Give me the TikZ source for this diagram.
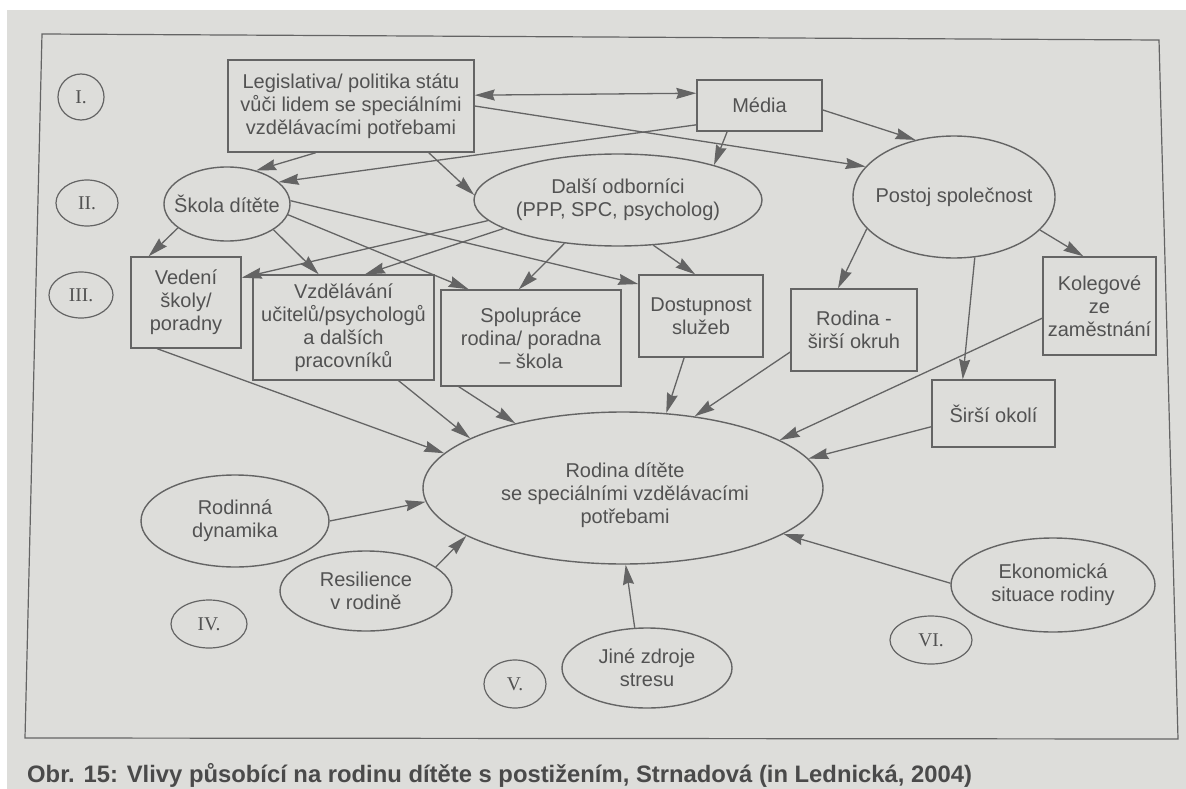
\documentclass[tikz,border=0pt]{standalone}
\usepackage{fontspec}
\setmainfont{Liberation Sans}
\newfontfamily\romfont{Liberation Serif}
\usetikzlibrary{shapes.geometric,arrows.meta}
\definecolor{paper}{HTML}{DDDDDA}
\definecolor{ink}{HTML}{525252}
\definecolor{lin}{HTML}{646464}
\definecolor{capink}{HTML}{4A4A4A}
\begin{document}
\begin{tikzpicture}[x=1pt,y=-1pt,
  txt/.style={text=ink, align=center, font=\fontsize{20}{23}\selectfont},
  box/.style={txt, draw=lin, line width=1.4pt, inner sep=0pt},
  ell/.style={txt, ellipse, draw=lin, line width=1.4pt, inner xsep=-40pt, inner ysep=-15pt},
  rom/.style={ellipse, draw=lin, line width=1.2pt, inner sep=0pt, text=ink, font=\romfont\fontsize{19.5}{21}\selectfont},
  arr/.style={draw=lin, line width=1.3pt, -{Stealth[length=20pt,width=11pt,inset=2pt]}},
  darr/.style={draw=lin, line width=1.3pt, {Stealth[length=20pt,width=11pt,inset=2pt]}-{Stealth[length=20pt,width=11pt,inset=2pt]}}
]
\useasboundingbox (0,0) rectangle (1186,789);
\fill[paper] (0,0) rectangle (1186,789);
\fill[white] (0,0) rectangle (1186,10);
\fill[white] (0,0) rectangle (7,789);
% outer frame
\draw[lin, line width=1.2pt] (42,34) -- (1159,40) -- (1178,739) -- (25,738) -- cycle;

% roman numerals
\node[rom, minimum width=46pt, minimum height=46pt] (r1) at (81,97) {I.};
\node[rom, minimum width=62pt, minimum height=46pt] (r2) at (87,203) {II.};
\node[rom, minimum width=64pt, minimum height=46pt] (r3) at (81,295) {III.};
\node[rom, minimum width=76pt, minimum height=48pt] (r4) at (209,624) {IV.};
\node[rom, minimum width=62pt, minimum height=48pt] (r5) at (515,684) {V.};
\node[rom, minimum width=82pt, minimum height=48pt] (r6) at (931,640) {VI.};

% level I
\node[box, minimum width=246pt, minimum height=92pt] (leg) at (351,106)
  {Legislativa/ politika státu\\vůči lidem se speciálními\\vzdělávacími potřebami};
\node[box, minimum width=125pt, minimum height=51pt] (media) at (759.5,105.5) {Média};

% level II
\node[ell, minimum width=126pt, minimum height=74pt] (skola) at (227,204) {Škola dítěte};
\node[ell, minimum width=288pt, minimum height=92pt] (dalsi) at (618,200)
  {Další odborníci\\(PPP, SPC, psycholog)};
\node[ell, minimum width=202pt, minimum height=122pt] (postoj) at (954,197) {Postoj společnost};

% level III
\node[box, minimum width=110pt, minimum height=91pt] (vedeni) at (186,302.5) {Vedení\\školy/\\poradny};
\node[box, minimum width=181pt, minimum height=105pt] (vzdel) at (343.5,327.5)
  {Vzdělávání\\učitelů/psychologů\\a dalších\\pracovníků};
\node[box, minimum width=180pt, minimum height=96pt] (spol) at (531,338)
  {Spolupráce\\rodina/ poradna\\– škola};
\node[box, minimum width=124pt, minimum height=82pt] (dost) at (701,316) {Dostupnost\\služeb};
\node[box, minimum width=126pt, minimum height=82pt] (rodsir) at (854,330) {Rodina -\\širší okruh};
\node[box, minimum width=113pt, minimum height=98pt] (koleg) at (1099.5,306) {Kolegové\\ze\\zaměstnání};
\node[box, minimum width=123pt, minimum height=67pt] (siroko) at (993.5,413.5) {Širší okolí};

% centre
\node[ell, minimum width=400pt, minimum height=152pt] (rodina) at (623,488) {};
\node[txt, inner sep=0pt] (rodinatext) at (625,495)
  {Rodina dítěte\\se speciálními vzdělávacími\\potřebami};

% lower
\node[ell, minimum width=188pt, minimum height=92pt] (dyn) at (235,521) {Rodinná\\dynamika};
\node[ell, minimum width=172pt, minimum height=80pt] (res) at (366,591) {Resilience\\v rodině};
\node[ell, minimum width=170pt, minimum height=80pt] (jine) at (647,668) {Jiné zdroje\\stresu};
\node[ell, minimum width=204pt, minimum height=94pt] (eko) at (1053,585) {Ekonomická\\situace rodiny};

% connectors
\draw[darr] (leg.5.6) -- (media.169.6);
\draw[arr] (leg.-0.9) -- (postoj.161.6);
\draw[arr] (media.197.1) -- (skola.23.5);
\draw[arr] (leg.233.5) -- (skola.49);
\draw[arr] (leg.-31.2) -- (dalsi.178.8);
\draw[arr] (media.219) -- (dalsi.20.9);
\draw[arr] (media.-4.1) -- (postoj.124.8);

\draw[arr] (skola.206.6) -- (vedeni.129.1);
\draw[arr] (skola.-29.4) -- (vzdel.115.9);
\draw[arr] (skola.-10.1) -- (spol.142.3);
\draw[arr] (skola.3.6) -- (dost.153.4);
\draw[arr] (dalsi.189.8) -- (vedeni.24.9);
\draw[arr] (dalsi.194) -- (vzdel.68.7);
\draw[arr] (dalsi.219.3) -- (spol.104);
\draw[arr] (dalsi.-52.1) -- (dost.98.3);
\draw[arr] (postoj.200.6) -- (rodsir.111.3);
\draw[arr] (postoj.-21.3) -- (koleg.108.6);
\draw[arr] (postoj.-71.8) -- (siroko.132.3);

\draw[arr] (vedeni.238.4) -- (rodina.169.5);
\draw[arr] (vzdel.-44.5) -- (rodina.162.3);
\draw[arr] (spol.214) -- (rodina.149.8);
\draw[arr] (dost.248.7) -- (rodina.60);
\draw[arr] (rodsir.199.3) -- (rodina.45);
\draw[arr] (koleg.192) -- (rodina.17.8);
\draw[arr] (siroko.192.4) -- (rodina.9.2);

\draw[arr] (dyn.0.6) -- (rodina.184);
\draw[arr] (res.19.4) -- (rodina.197.4);
\draw[arr] (jine.107.6) -- (rodina.272);
\draw[arr] (eko.179.5) -- (rodina.-16.2);

% caption
\node[anchor=west, inner sep=0pt, text=capink, font=\bfseries\fontsize{23.8}{26}\selectfont] (cap) at (27,775)
  {Obr. 15: Vlivy působící na rodinu dítěte s postižením, Strnadová (in Lednická, 2004)};
\end{tikzpicture}
\end{document}
